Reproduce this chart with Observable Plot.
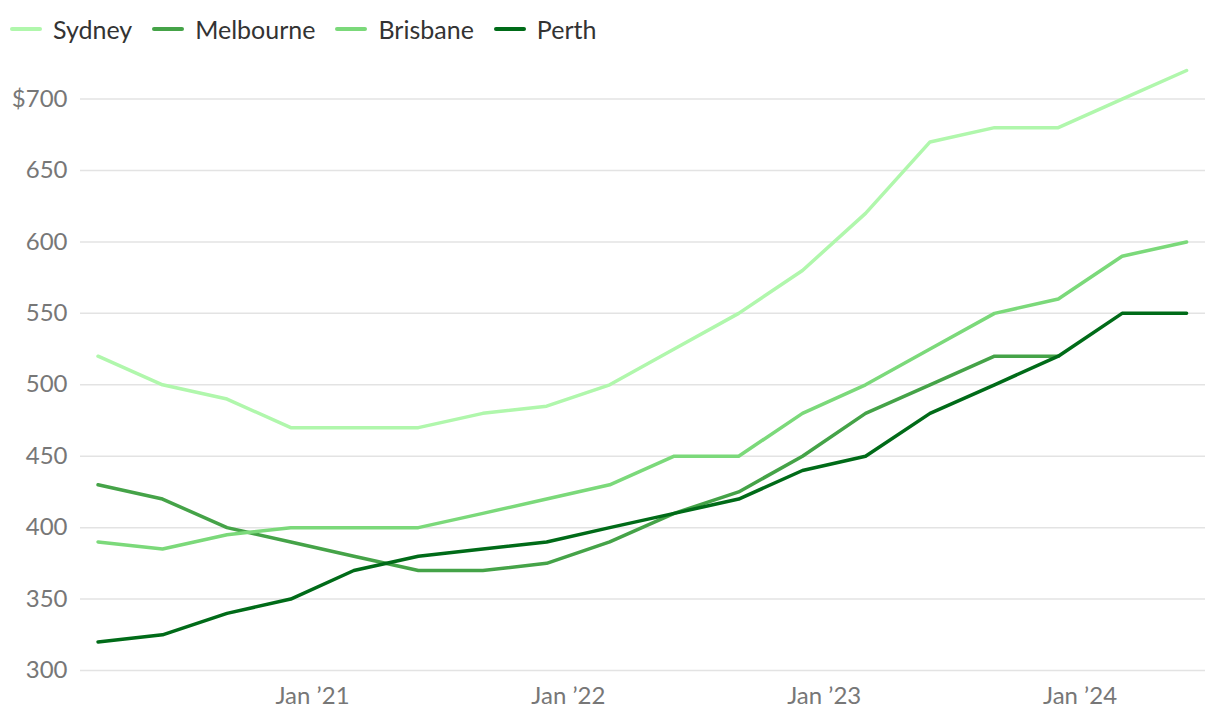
<!DOCTYPE html>
<html><head><meta charset="utf-8">
<script src="https://cdn.jsdelivr.net/npm/d3@7"></script>
<script src="https://cdn.jsdelivr.net/npm/@observablehq/plot@0.6"></script>
<style>
body{margin:0;background:#fff;font-family:Lato,"Open Sans",sans-serif;}
#legend{height:60px;display:flex;align-items:center;padding-left:10px;box-sizing:border-box;padding-bottom:2px;}
.item{display:flex;align-items:center;margin-right:20px;font-size:25px;color:#333;}
.sw{width:32px;height:4px;border-radius:2px;margin-right:11px;}
</style></head>
<body>
<div id="legend"></div>
<div id="chart"></div>
<script>
const quarters = ["2020-03-01","2020-06-01","2020-09-01","2020-12-01","2021-03-01","2021-06-01","2021-09-01","2021-12-01","2022-03-01","2022-06-01","2022-09-01","2022-12-01","2023-03-01","2023-06-01","2023-09-01","2023-12-01","2024-03-01","2024-06-01"];
const cities = ["Sydney","Melbourne","Brisbane","Perth"];
const colors = ["#b0f7ac","#45a348","#7bd97a","#006b18"];
const sydney = [520,500,490,470,470,470,480,485,500,525,550,580,620,670,680,680,700,720];
const melbourne = [430,420,400,390,380,370,370,375,390,410,425,450,480,500,520,520];
const brisbane = [390,385,395,400,400,400,410,420,430,450,450,480,500,525,550,560,590,600];
const perth = [320,325,340,350,370,380,385,390,400,410,420,440,450,480,500,520,550,550];
const yTicks = [300,350,400,450,500,550,600,650,700];
const xTicks = ["2021-01-01","2022-01-01","2023-01-01","2024-01-01"];
const xTickLabels = ["Jan \u201921","Jan \u201922","Jan \u201923","Jan \u201924"];

const series = [sydney, melbourne, brisbane, perth];
const rows = [];
series.forEach((vals, i) => vals.forEach((v, j) => rows.push({city: cities[i], date: new Date(quarters[j]), value: v})));

const legend = document.getElementById("legend");
cities.forEach((c, i) => {
  const d = document.createElement("div"); d.className = "item";
  d.innerHTML = `<span class="sw" style="background:${colors[i]}"></span>${c}`;
  legend.appendChild(d);
});

const xt = xTicks.map(d => new Date(d));
const chart = Plot.plot({
  width: 1220, height: 664,
  marginLeft: 80, marginRight: 15, marginTop: 10, marginBottom: 54,
  style: {fontFamily: "Lato, 'Open Sans', sans-serif", fontSize: "24px", color: "#777", background: "transparent"},
  x: {type: "utc", domain: [new Date("2020-02-05"), new Date("2024-06-28")]},
  y: {domain: [300, 720]},
  color: {domain: cities, range: colors},
  marks: [
    Plot.gridY(yTicks, {stroke: "#e3e3e3", strokeOpacity: 1, strokeWidth: 1.5}),
    Plot.axisY(yTicks, {tickSize: 0, tickPadding: 13, label: null, fill: "#777",
      tickFormat: d => d === 700 ? "$700" : String(d)}),
    Plot.axisX(xt, {tickSize: 0, tickPadding: 16, label: null, fill: "#777",
      tickFormat: d => xTickLabels[xt.findIndex(t => +t === +d)]}),
    Plot.line(rows, {x: "date", y: "value", z: "city", stroke: "city", strokeWidth: 3.5, strokeLinejoin: "round", strokeLinecap: "round"})
  ]
});
document.getElementById("chart").appendChild(chart);
</script>
</body></html>
